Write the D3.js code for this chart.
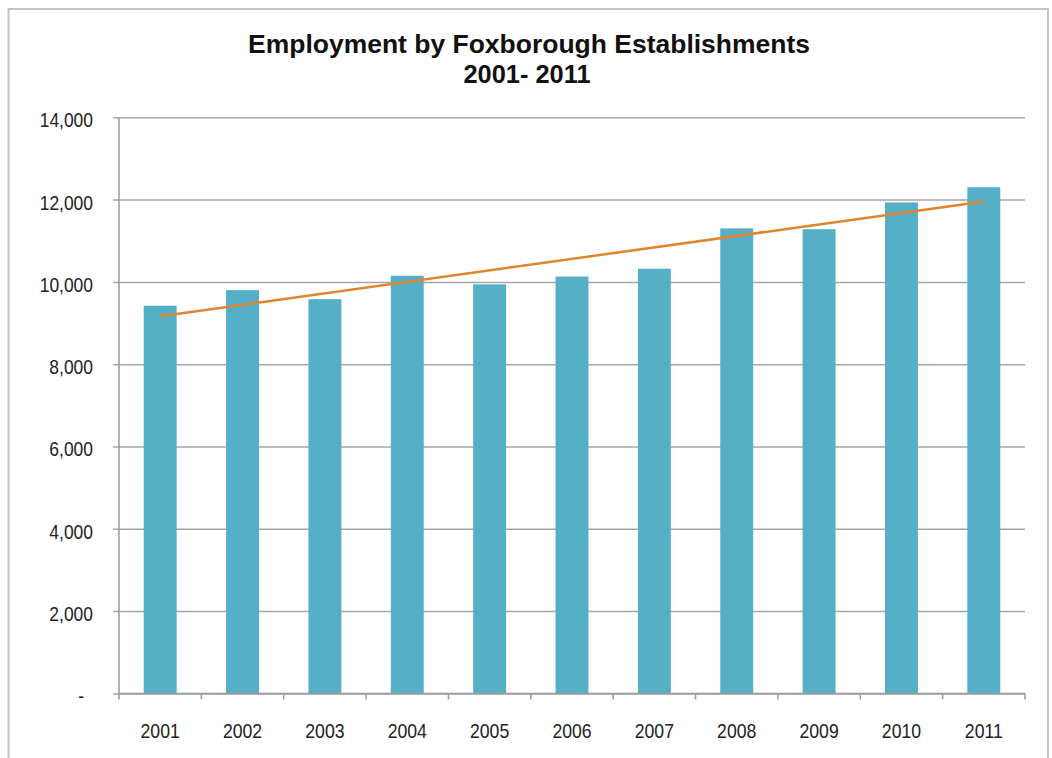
<!DOCTYPE html>
<html>
<head>
<meta charset="utf-8">
<script src="https://cdn.jsdelivr.net/npm/d3@7"></script>
<style>
  html, body { margin: 0; padding: 0; background: #fff; }
  svg { display: block; font-family: Arial, "Liberation Sans", sans-serif; }
</style>
</head>
<body>
<svg id="chart" width="1052" height="758"></svg>
<script>
// Employment counts per year
const years = ["2001", "2002", "2003", "2004", "2005", "2006", "2007", "2008", "2009", "2010", "2011"];
const employment = [9420, 9800, 9580, 10150, 9940, 10130, 10320, 11300, 11280, 11930, 12300];
const yTicks = [0, 2000, 4000, 6000, 8000, 10000, 12000, 14000];
const titleLines = ["Employment by Foxborough Establishments", "2001- 2011"];

const W = 1052, H = 758;
const margin = { top: 117.3, right: 27, bottom: 64.6, left: 119 };
const innerW = W - margin.left - margin.right;
const innerH = H - margin.top - margin.bottom;

const svg = d3.select("#chart");

// outer frame
svg.append("rect")
  .attr("x", 8.5).attr("y", 9).attr("width", 1039.5).attr("height", 770)
  .attr("fill", "none").attr("stroke", "#c4c4c4").attr("stroke-width", 2);

// narrow the glyphs slightly, as in condensed chart text
function condense(sel, k) {
  sel.each(function () {
    const len = this.getComputedTextLength();
    d3.select(this).attr("textLength", len * k).attr("lengthAdjust", "spacingAndGlyphs");
  });
}

// title, two centred lines
const title = svg.append("g").attr("class", "title");
const titleSpecs = [
  { x: 529, y: 53.3, len: 562 },
  { x: 527, y: 83.3, len: 127 }
];
title.selectAll("text")
  .data(titleLines)
  .join("text")
  .attr("x", (d, i) => titleSpecs[i].x)
  .attr("y", (d, i) => titleSpecs[i].y)
  .attr("text-anchor", "middle")
  .attr("font-size", 26).attr("font-weight", "bold").attr("fill", "#111")
  .attr("textLength", (d, i) => titleSpecs[i].len)
  .attr("lengthAdjust", "spacingAndGlyphs")
  .text(d => d);

const g = svg.append("g").attr("transform", `translate(${margin.left},${margin.top})`);

const x = d3.scaleBand().domain(years).range([0, innerW]).paddingInner(0.6).paddingOuter(0.3);
const y = d3.scaleLinear().domain([0, 14000]).range([innerH, 0]);

// horizontal gridlines with short ticks left of the axis
const yAxis = d3.axisLeft(y)
  .tickValues(yTicks)
  .tickSize(-innerW)
  .tickSizeOuter(0)
  .tickPadding(26)
  .tickFormat(d => d === 0 ? "-" : d3.format(",")(d));

const yg = g.append("g").call(yAxis);
yg.select(".domain").remove();
yg.selectAll(".tick line")
  .attr("x1", -6)
  .attr("stroke", "#a6a6a6").attr("stroke-width", 1.5);
yg.selectAll(".tick text")
  .attr("font-size", 21).attr("fill", "#222")
  .attr("dy", "0.45em")
  .attr("font-family", "Arial, 'Liberation Sans', sans-serif");
yg.selectAll(".tick text").filter(d => d === 0).attr("dx", -9);
yg.selectAll(".tick text").call(condense, 0.83);

// bars
g.append("g").selectAll("rect")
  .data(years)
  .join("rect")
  .attr("x", d => x(d))
  .attr("width", x.bandwidth())
  .attr("y", (d, i) => y(employment[i]))
  .attr("height", (d, i) => innerH - y(employment[i]))
  .attr("fill", "#55afc6");

// left axis line
g.append("line")
  .attr("x1", 0).attr("x2", 0).attr("y1", y(14000)).attr("y2", innerH)
  .attr("stroke", "#9a9a9a").attr("stroke-width", 1.5);

// bottom axis with ticks at the category boundaries
const step = x.step();
const xb = g.append("g").attr("transform", `translate(0,${innerH})`);
xb.append("line").attr("x1", 0).attr("x2", innerW)
  .attr("stroke", "#9a9a9a").attr("stroke-width", 1.5);
xb.selectAll("line.tk")
  .data(d3.range(years.length + 1))
  .join("line").attr("class", "tk")
  .attr("x1", i => i * step).attr("x2", i => i * step)
  .attr("y1", 0).attr("y2", 6)
  .attr("stroke", "#9a9a9a").attr("stroke-width", 1.5);
xb.selectAll("text")
  .data(years)
  .join("text")
  .attr("x", d => x(d) + x.bandwidth() / 2)
  .attr("y", 44.6)
  .attr("text-anchor", "middle")
  .attr("font-size", 21).attr("fill", "#222")
  .text(d => d)
  .call(condense, 0.84);

// linear trend of the series (least squares)
const idx = d3.range(employment.length);
const mx = d3.mean(idx), my = d3.mean(employment);
const slope = d3.sum(idx, i => (i - mx) * (employment[i] - my)) / d3.sum(idx, i => (i - mx) ** 2);
const intercept = my - slope * mx;
const trend = [0, employment.length - 1].map(i => [x(years[i]) + x.bandwidth() / 2, y(intercept + slope * i)]);

g.append("path")
  .attr("d", d3.line()(trend))
  .attr("fill", "none")
  .attr("stroke", "#e2842c")
  .attr("stroke-width", 2.5);
</script>
</body>
</html>
